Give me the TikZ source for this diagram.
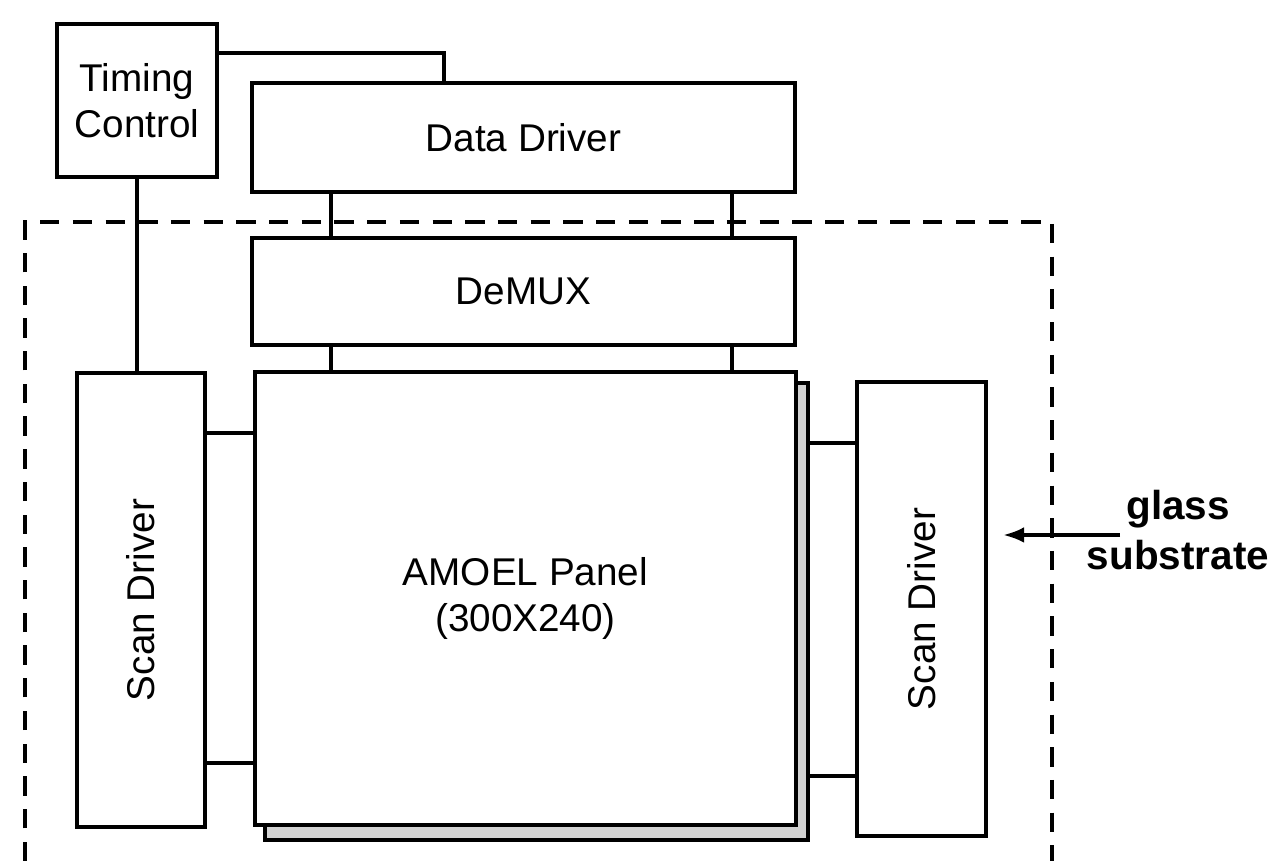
\documentclass[tikz,border=0pt]{standalone}
\usepackage{fontspec}
\setmainfont{Liberation Sans}
\usetikzlibrary{arrows.meta,positioning,calc}

\tikzset{
  blk/.style={draw, line width=1.3pt, fill=white, inner sep=0pt, align=center,
    font=\fontsize{11}{13}\selectfont},
  wire/.style={line width=1.1pt},
  substr/.style={line width=1.4pt, dash pattern=on 5.5pt off 3.8pt},
}

\begin{document}
\begin{tikzpicture}[x=0.01cm,y=-0.01cm]
            \useasboundingbox (0,0) rectangle (1272,861);

            % --- glass substrate border (open at the bottom) ---
            \draw[substr] (25,861) |- (1052,222) -- (1052,861);

            % --- controller and column side ---
            \node[blk, minimum width=1.60cm, minimum height=1.53cm] (timing) at (137,100.5) {Timing\\Control};
            \node[blk, minimum width=5.43cm, minimum height=1.09cm] (data) at (523.5,137.5) {Data Driver};
            \node[blk, minimum width=5.43cm, minimum height=1.07cm] (demux) at (523.5,291.5) {DeMUX};

            % --- panel with its shadow ---
            \fill[gray!35] (265,383) rectangle (808,840);
            \draw[line width=1.3pt] (265,383) rectangle (808,840);
            \node[blk, minimum width=5.41cm, minimum height=4.53cm] (panel) at (525.5,598.5) {AMOEL Panel\\(300X240)};
            \coordinate (shadow) at (808,611.5);

            % --- row side ---
            \node[blk, minimum width=1.28cm, minimum height=4.54cm] (scanL) at (141,600) {\rotatebox{90}{Scan Driver}};
            \node[blk, minimum width=1.29cm, minimum height=4.54cm] (scanR) at (921.5,609) {\rotatebox{90}{Scan Driver}};

            % Timing control wires
            \draw[wire] ($(timing.north east)!0.2!(timing.south east)$) -| ($(data.north west)!0.355!(data.north east)$);
            \draw[wire] (timing.south) -- (timing.south |- scanL.north);

            % Data driver -> DeMUX -> panel
            \coordinate (colA) at (331,0);
            \coordinate (colB) at (732,0);
            \draw[wire] (colA |- data.south) -- (colA |- demux.north);
            \draw[wire] (colB |- data.south) -- (colB |- demux.north);
            \draw[wire] (colA |- demux.south) -- (colA |- panel.north);
            \draw[wire] (colB |- demux.south) -- (colB |- panel.north);

            % Scan drivers -> panel
            \coordinate (rowA) at (0,433);
            \coordinate (rowB) at (0,763);
            \coordinate (rowC) at (0,443);
            \coordinate (rowD) at (0,776);
            \draw[wire] (scanL.east |- rowA) -- (panel.west |- rowA);
            \draw[wire] (scanL.east |- rowB) -- (panel.west |- rowB);
            \draw[wire] (scanR.west |- rowC) -- (shadow |- rowC);
            \draw[wire] (scanR.west |- rowD) -- (shadow |- rowD);

            % Label
            \node[align=center, font=\bfseries\fontsize{11.5}{14}\selectfont] (glass) at (1178,530) {glass\\substrate};
            \coordinate (tip) at (1003,535);
            \coordinate (tail) at (1120,535);
            \draw[wire, -{Latex[length=6pt,width=4.5pt]}] (tail) -- (tip);
\end{tikzpicture}
\end{document}
